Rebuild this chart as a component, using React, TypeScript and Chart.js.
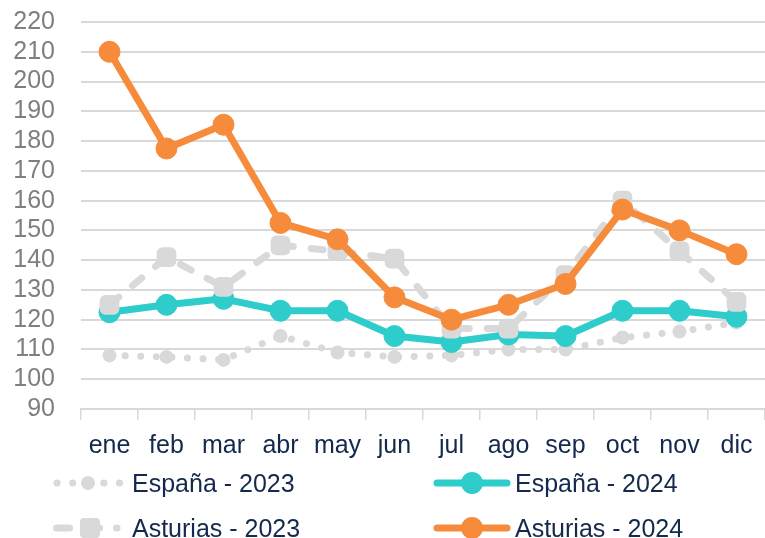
import React, { useEffect, useRef } from "react";
import { Chart, registerables } from "chart.js";

Chart.register(...registerables);

const months = ["ene", "feb", "mar", "abr", "may", "jun", "jul", "ago", "sep", "oct", "nov", "dic"];
const espana2023 = [108, 107.5, 106.5, 114.5, 109, 107.5, 108, 110, 110, 114, 116, 119];
const espana2024 = [122.5, 125, 127, 123, 123, 114.5, 112.5, 115, 114.5, 123, 123, 121];
const asturias2023 = [125, 141, 131, 145, 143, 140.5, 117, 117, 135, 160, 143, 126];
const asturias2024 = [210, 177.5, 185.5, 152.5, 147, 127.5, 120, 125, 132, 157, 150, 142];
const yMin = 90;
const yMax = 220;
const yStep = 10;

const GRAY = "#d9d9d9";
const TEAL = "#2ecccb";
const ORANGE = "#f68b3c";
const NAVY = "#13294d";
const FONT = "'Liberation Sans', Arial, sans-serif";

const legendPlugin = {
  id: "customLegend",
  afterDraw(chart: any) {
    const ctx = chart.ctx as CanvasRenderingContext2D;
    ctx.save();
    const rows = [483, 528];
    const items = [
      { label: "España - 2023", x0: 57, x1: 121, mx: 88, row: 0, col: 0, kind: "dot" },
      { label: "España - 2024", x0: 437, x1: 507, mx: 472, row: 0, col: 1, kind: "teal" },
      { label: "Asturias - 2023", x0: 56.5, x1: 117, mx: 90, row: 1, col: 0, kind: "dash" },
      { label: "Asturias - 2024", x0: 437, x1: 507, mx: 472, row: 1, col: 1, kind: "orange" },
    ];
    for (const it of items) {
      const y = rows[it.row];
      ctx.lineCap = "round";
      ctx.lineWidth = 7;
      if (it.kind === "dot") {
        ctx.strokeStyle = GRAY;
        ctx.setLineDash([0.1, 15.5]);
        ctx.beginPath();
        ctx.moveTo(it.x0, y);
        ctx.lineTo(it.x1, y);
        ctx.stroke();
        ctx.setLineDash([]);
        ctx.fillStyle = GRAY;
        ctx.beginPath();
        ctx.arc(it.mx, y, 7, 0, Math.PI * 2);
        ctx.fill();
      } else if (it.kind === "dash") {
        ctx.strokeStyle = GRAY;
        ctx.setLineDash([13, 17]);
        ctx.beginPath();
        ctx.moveTo(it.x0, y);
        ctx.lineTo(it.x1, y);
        ctx.stroke();
        ctx.setLineDash([]);
        ctx.fillStyle = GRAY;
        ctx.beginPath();
        const s = 10;
        const r = 4;
        ctx.moveTo(it.mx - s + r, y - s);
        ctx.arcTo(it.mx + s, y - s, it.mx + s, y + s, r);
        ctx.arcTo(it.mx + s, y + s, it.mx - s, y + s, r);
        ctx.arcTo(it.mx - s, y + s, it.mx - s, y - s, r);
        ctx.arcTo(it.mx - s, y - s, it.mx + s, y - s, r);
        ctx.closePath();
        ctx.fill();
      } else {
        const c = it.kind === "teal" ? TEAL : ORANGE;
        ctx.strokeStyle = c;
        ctx.setLineDash([]);
        ctx.beginPath();
        ctx.moveTo(it.x0, y);
        ctx.lineTo(it.x1, y);
        ctx.stroke();
        ctx.fillStyle = c;
        ctx.beginPath();
        ctx.arc(it.mx, y, 11, 0, Math.PI * 2);
        ctx.fill();
      }
      ctx.fillStyle = NAVY;
      ctx.font = `25px ${FONT}`;
      ctx.textAlign = "left";
      ctx.textBaseline = "alphabetic";
      const tx = it.col === 0 ? 132 : 515;
      ctx.fillText(it.label, tx, y + 9);
    }
    ctx.restore();
  },
};

export default function App() {
  const ref = useRef<HTMLCanvasElement | null>(null);
  useEffect(() => {
    if (!ref.current) return;
    Chart.defaults.font.family = FONT;
    const chart = new Chart(ref.current, {
      type: "line",
      data: {
        labels: months,
        datasets: [
          {
            label: "España - 2023",
            data: espana2023,
            borderColor: GRAY,
            backgroundColor: GRAY,
            borderWidth: 7,
            borderDash: [0.1, 15.5],
            borderCapStyle: "round",
            pointStyle: "circle",
            pointRadius: 7,
            pointBorderWidth: 0,
            pointBackgroundColor: GRAY,
            order: 4,
          },
          {
            label: "España - 2024",
            data: espana2024,
            borderColor: TEAL,
            backgroundColor: TEAL,
            borderWidth: 7,
            borderJoinStyle: "round",
            pointRadius: 10.5,
            pointBorderWidth: 1,
            pointBorderColor: TEAL,
            pointBackgroundColor: TEAL,
            order: 3,
          },
          {
            label: "Asturias - 2023",
            data: asturias2023,
            borderColor: GRAY,
            backgroundColor: GRAY,
            borderWidth: 7,
            borderDash: [12, 18],
            borderCapStyle: "round",
            pointStyle: "rectRounded",
            pointRadius: 11.5,
            pointBorderWidth: 0,
            pointBackgroundColor: GRAY,
            order: 2,
          },
          {
            label: "Asturias - 2024",
            data: asturias2024,
            borderColor: ORANGE,
            backgroundColor: ORANGE,
            borderWidth: 7,
            borderJoinStyle: "round",
            pointRadius: 10.5,
            pointBorderWidth: 1,
            pointBorderColor: ORANGE,
            pointBackgroundColor: ORANGE,
            order: 1,
          },
        ],
      },
      options: {
        animation: false,
        responsive: false,
        maintainAspectRatio: false,
        layout: { autoPadding: false, padding: { top: 22, bottom: 79, left: 0, right: 0 } },
        plugins: { legend: { display: false }, tooltip: { enabled: false } },
        scales: {
          x: {
            type: "category",
            offset: true,
            grid: {
              offset: true,
              drawOnChartArea: false,
              drawTicks: true,
              tickLength: 11,
              color: GRAY,
              lineWidth: 1.5,
            },
            border: { display: true, color: GRAY, width: 2 },
            ticks: { color: NAVY, font: { size: 25 }, padding: 11, maxRotation: 0, autoSkip: false },
            afterFit: (s: any) => {
              s.height = 50;
              s.paddingLeft = 0;
              s.paddingRight = 0;
            },
          },
          y: {
            min: yMin,
            max: yMax,
            grid: { color: GRAY, lineWidth: 2, drawTicks: false },
            border: { display: false },
            ticks: { stepSize: yStep, color: "#7f7f7f", font: { size: 25 }, padding: 26, autoSkip: false },
            afterFit: (s: any) => {
              s.width = 81;
              s.paddingTop = 0;
              s.paddingBottom = 0;
            },
          },
        },
      },
      plugins: [legendPlugin],
    });
    return () => chart.destroy();
  }, []);
  return (
    <div style={{ position: "fixed", left: 0, top: 0, width: 765, height: 538, background: "#fff" }}>
      <canvas ref={ref} width={765} height={538} style={{ width: 765, height: 538, display: "block" }} />
    </div>
  );
}
